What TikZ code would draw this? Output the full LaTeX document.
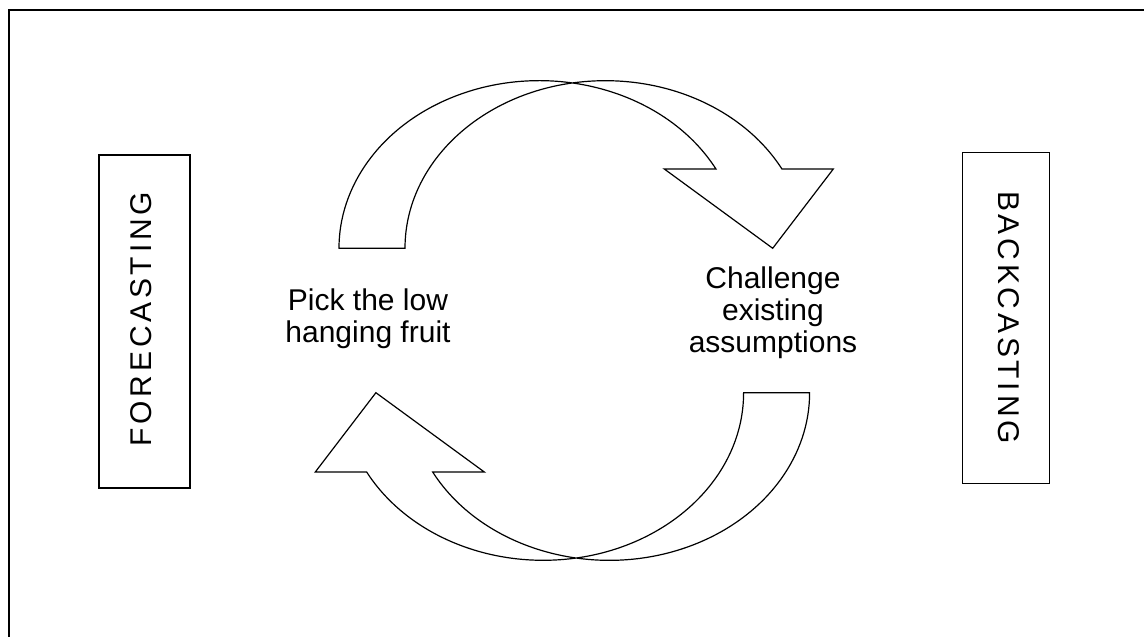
\documentclass[tikz,border=0pt]{standalone}
\usepackage{fontspec}
\setmainfont{Liberation Sans}
\newfontfamily\spacedfont[LetterSpace=12.5]{Liberation Sans}
\usetikzlibrary{calc}
\tikzstyle{box}=[rectangle,fill=white,draw=black,line width=1.5pt,inner sep=0pt,anchor=center]
\tikzstyle{annot}=[align=center,font=\fontsize{30}{32}\selectfont]
\tikzstyle{sidetext}=[font=\spacedfont\fontsize{30}{32}\selectfont,inner sep=0pt]
\tikzstyle{curved}=[draw=black,fill=white,line width=1.2pt,line join=miter]
\newcommand{\drawcurvedarrow}[1]
{
  \begin{scope}[rotate around={#1:(mid)}]
  \draw[curved] (339,388.7) -- (405,388.7)
    arc[start angle=180, end angle=28.23, x radius=200.4, y radius=167.6]
    -- (833.3,468) -- (772.7,388.7) -- (664.3,468) -- (715.95,468)
    arc[start angle=28.23, end angle=180, x radius=200.4, y radius=167.6] -- cycle;
  \end{scope}
}

\begin{document}
\begin{tikzpicture}[x=1pt,y=1pt]
	\useasboundingbox (0,0) rectangle (1144,637);
	\coordinate (mid) at (574.3,316.5);

	% outer frame, only left and top edges are on the page
	\draw[line width=1.5pt] (9,0) -- (9,627) -- (1144,627);

	\drawcurvedarrow{0}
	\drawcurvedarrow{180}

	\node[box, minimum width=91pt, minimum height=333pt](fore) at (144.5,315.5){};
	\node[box, minimum width=87pt, minimum height=331pt](back) at (1006.2,318.8){};
	\node[sidetext, rotate=90](forelabel) at (141,317.8){FORECASTING};
	\node[sidetext, rotate=-90](backlabel) at (1009,319.5){BACKCASTING};

	\node[annot](pick) at (368,318){Pick the low\\hanging fruit};
	\node[annot](challenge) at (773,324.5){Challenge\\existing\\assumptions};

\end{tikzpicture}
\end{document}
